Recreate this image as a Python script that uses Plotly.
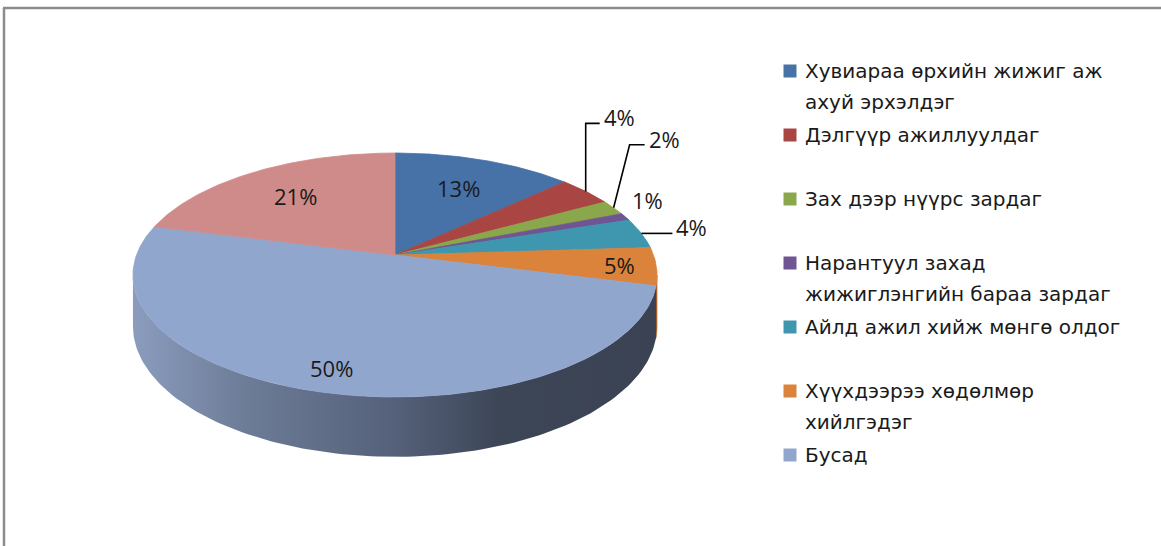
import numpy as np
import plotly.graph_objects as go

# ---------------- data ----------------
categories = [
    "Хувиараа өрхийн жижиг аж ахуй эрхэлдэг",
    "Дэлгүүр ажиллуулдаг",
    "Зах дээр нүүрс зардаг",
    "Нарантуул захад жижиглэнгийн бараа зардаг",
    "Айлд ажил хийж мөнгө олдог",
    "Хүүхдээрээ хөдөлмөр хийлгэдэг",
    "Бусад",
    "",
]
legend_lines = [
    ["Хувиараа өрхийн жижиг аж", "ахуй эрхэлдэг"],
    ["Дэлгүүр ажиллуулдаг"],
    ["Зах дээр нүүрс зардаг"],
    ["Нарантуул захад", "жижиглэнгийн бараа зардаг"],
    ["Айлд ажил хийж мөнгө олдог"],
    ["Хүүхдээрээ хөдөлмөр", "хийлгэдэг"],
    ["Бусад"],
]
values = [13, 4, 2, 1, 4, 5, 50, 21]

# ---------------- style ----------------
top_colors = ["#4672A8", "#A94644", "#8BA74B", "#6F5593", "#3E97AE",
              "#DB833A", "#91A6CD", "#CF8B89"]
side_colors = ["#2F4D72", "#73302E", "#5E7133", "#4B3A63", "#2A6676",
               "#A35F27", None, "#8C5E5D"]
side_gradient = [[0, "#8B9CBE"], [0.22, "#6C7B96"], [0.5, "#55617A"],
                 [0.70, "#3D4657"], [1, "#3A4253"]]

W, H = 1161, 546
CX, CY = 395, 255
RX, RY = 258.5, 118.7
P = 0.164
DEPTH = 50
LABEL_FONT = "Open Sans"
LEGEND_FONT = "DejaVu Sans"
LABEL_SIZE = 22
LEGEND_SIZE = 20

# label placement (position/style only)
inside_f = {0: 0.68, 5: 0.86, 6: 0.85, 7: 0.68}
outside = {
    1: dict(path=[(0, -68), (14, -68)], text=(16, -74)),
    2: dict(path=[(16, -63), (31, -63)], text=(33, -69)),
    3: dict(path=[], text=(5, -17)),
    4: dict(path=[(31, 0)], text=(33, -6)),
}


def proj(theta_deg, f=1.0, drop=0.0):
    t = np.radians(theta_deg)
    w = 1 + P * f * np.cos(t)
    x = CX + RX * f * np.sin(t) / w
    y = CY - RY * f * np.cos(t) / w + drop / w
    return x, y


total = float(sum(values))
bounds = np.concatenate([[0], np.cumsum(values)]) / total * 360.0
sil_a = np.degrees(np.arccos(-P))
sil_b = 360 - sil_a

fig = go.Figure()

# ---- side faces ----
for i, v in enumerate(values):
    a, b = max(bounds[i], sil_a), min(bounds[i + 1], sil_b)
    if b <= a:
        continue
    th = np.linspace(a, b, 120)
    xt, yt = proj(th)
    xb, yb = proj(th[::-1], drop=DEPTH)
    xs = np.concatenate([xt, xb, xt[:1]])
    ys = np.concatenate([yt, yb, yt[:1]])
    kw = {}
    if side_colors[i] is None:
        kw["fillgradient"] = dict(type="horizontal", colorscale=side_gradient)
        lc = "rgba(0,0,0,0)"
    else:
        kw["fillcolor"] = side_colors[i]
        lc = side_colors[i]
    fig.add_trace(go.Scatter(x=xs, y=ys, mode="lines", fill="toself",
                             line=dict(width=0.5, color=lc),
                             hoverinfo="skip", showlegend=False, **kw))

# ---- top faces ----
for i, v in enumerate(values):
    th = np.linspace(bounds[i], bounds[i + 1], max(int((bounds[i + 1] - bounds[i]) * 1.5), 4))
    xa, ya = proj(th)
    xs = np.concatenate([[CX], xa, [CX]])
    ys = np.concatenate([[CY], ya, [CY]])
    fig.add_trace(go.Scatter(x=xs, y=ys, mode="lines", fill="toself",
                             fillcolor=top_colors[i],
                             line=dict(width=0.8, color=top_colors[i]),
                             name=categories[i], text=f"{v}%",
                             hoverinfo="text", showlegend=False))

# ---- data labels ----
for i, v in enumerate(values):
    mid = (bounds[i] + bounds[i + 1]) / 2
    if i in inside_f:
        x, y = proj(mid, inside_f[i])
        fig.add_annotation(x=x, y=y, text=f"{v}%", showarrow=False,
                           font=dict(family=LABEL_FONT, size=LABEL_SIZE, color="#1A1A1A"),
                           xanchor="center", yanchor="middle")
    else:
        ax, ay = proj(mid)
        cfg = outside[i]
        pts = [(ax, ay)] + [(ax + dx, ay + dy) for dx, dy in cfg["path"]]
        if len(pts) > 1:
            d = "M " + " L ".join(f"{px:.1f},{py:.1f}" for px, py in pts)
            fig.add_shape(type="path", path=d, xref="x", yref="y",
                          line=dict(color="#000000", width=1.6))
        tx, ty = ax + cfg["text"][0], ay + cfg["text"][1]
        fig.add_annotation(x=tx, y=ty, text=f"{v}%", showarrow=False,
                           font=dict(family=LABEL_FONT, size=LABEL_SIZE, color="#1A1A1A"),
                           xanchor="left", yanchor="middle")

# ---- legend (custom, Excel-like slots) ----
LEG_X, LEG_Y0, LEG_STEP, LINE_H = 790, 71, 64, 31
leg_y = [LEG_Y0 + k * LEG_STEP for k in range(len(legend_lines))]
fig.add_trace(go.Scatter(x=[LEG_X] * len(legend_lines), y=leg_y, mode="markers",
                         marker=dict(symbol="square", size=13,
                                     color=top_colors[:len(legend_lines)],
                                     line=dict(width=0)),
                         hoverinfo="skip", showlegend=False))
for k, lines in enumerate(legend_lines):
    for j, line in enumerate(lines):
        fig.add_annotation(x=LEG_X + 13, y=leg_y[k] + j * LINE_H, text=line,
                           showarrow=False, xanchor="left", yanchor="middle",
                           font=dict(family=LEGEND_FONT, size=LEGEND_SIZE, color="#1A1A1A"))

# ---- chart border (top and left) ----
fig.add_shape(type="line", x0=3, x1=W, y0=8, y1=8, xref="x", yref="y",
              line=dict(color="#8C8C8C", width=2.5))
fig.add_shape(type="line", x0=4, x1=4, y0=8, y1=H, xref="x", yref="y",
              line=dict(color="#8C8C8C", width=2.5))

fig.update_layout(
    width=W, height=H, margin=dict(l=0, r=0, t=0, b=0),
    paper_bgcolor="white", plot_bgcolor="white",
    xaxis=dict(range=[0, W], visible=False, fixedrange=True),
    yaxis=dict(range=[H, 0], visible=False, fixedrange=True),
    showlegend=False,
)

fig.write_html("out.html", config={"displayModeBar": False},
               post_script="document.body.style.margin='0px';document.body.style.overflow='hidden';")
